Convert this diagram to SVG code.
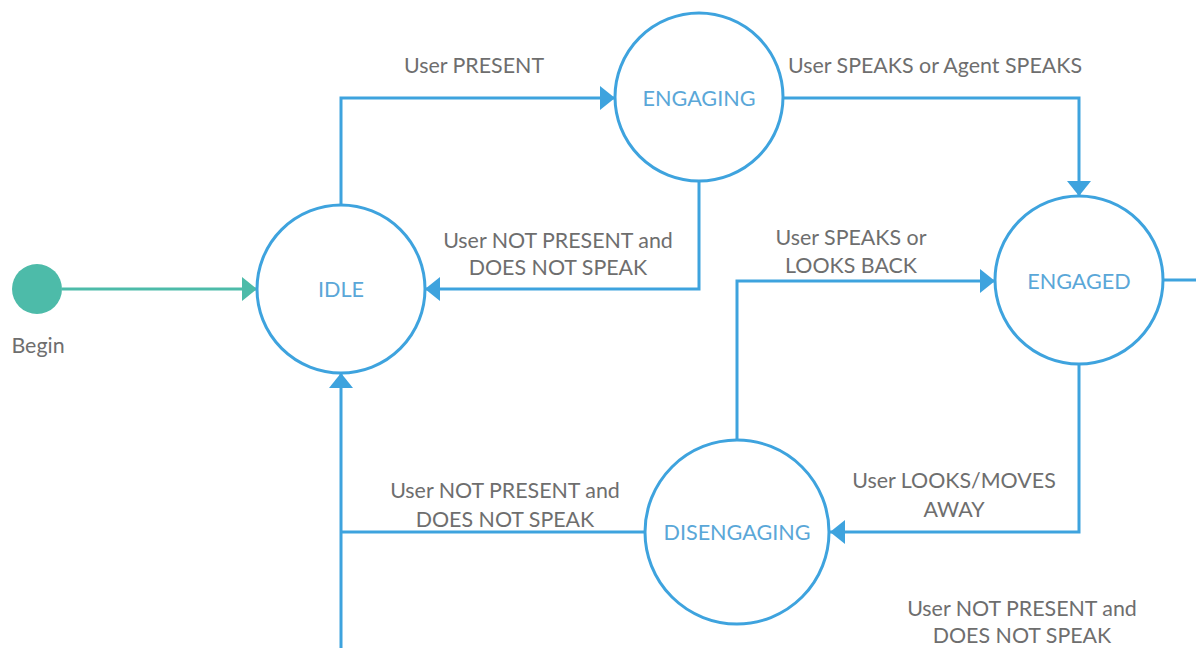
<svg xmlns="http://www.w3.org/2000/svg" width="1196" height="648" viewBox="0 0 1196 648">
  <style>
    .state { fill: #ffffff; stroke: #3ea3de; stroke-width: 3; }
    .state-label { font-family: Lato, "Liberation Sans", sans-serif; font-size: 21.6px; fill: #5aa7d8; text-anchor: middle; }
    .edge { fill: none; stroke: #3ea3de; stroke-width: 3; }
    .edge-start { fill: none; stroke: #4dbba9; stroke-width: 3; }
    .edge-label { font-family: Lato, "Liberation Sans", sans-serif; font-size: 21.4px; fill: #6e6e6e; text-anchor: middle; }
  </style>
  <defs>
    <marker id="arrow" markerUnits="userSpaceOnUse" markerWidth="16" markerHeight="26" viewBox="0 0 16 26" refX="15" refY="13" orient="auto">
      <path d="M0,1 L15,13 L0,25 Z" fill="#3ea3de"/>
    </marker>
    <marker id="arrow-start" markerUnits="userSpaceOnUse" markerWidth="16" markerHeight="26" viewBox="0 0 16 26" refX="15" refY="13" orient="auto">
      <path d="M0,1 L15,13 L0,25 Z" fill="#4dbba9"/>
    </marker>
  </defs>

  <rect width="1196" height="648" fill="#ffffff"/>

  <!-- transitions -->
  <g id="connectors">
    <path class="edge-start" d="M62,289 L257,289" marker-end="url(#arrow-start)"/>
    <path class="edge" d="M341,205 L341,98 L615,98" marker-end="url(#arrow)"/>
    <path class="edge" d="M783,98 L1079,98 L1079,196" marker-end="url(#arrow)"/>
    <path class="edge" d="M699,181 L699,289 L425,289" marker-end="url(#arrow)"/>
    <path class="edge" d="M737,440 L737,281 L995,281" marker-end="url(#arrow)"/>
    <path class="edge" d="M1079,364 L1079,532 L830,532" marker-end="url(#arrow)"/>
    <path class="edge" d="M645,532 L341,532"/>
    <path class="edge" d="M341,648 L341,373" marker-end="url(#arrow)"/>
    <path class="edge" d="M1163,280 L1196,280"/>

    <text class="edge-label" x="474" y="73">User PRESENT</text>
    <text class="edge-label" x="935" y="73">User SPEAKS or Agent SPEAKS</text>
    <text class="edge-label" x="558" y="248">User NOT PRESENT and</text>
    <text class="edge-label" x="558" y="275">DOES NOT SPEAK</text>
    <text class="edge-label" x="851" y="245">User SPEAKS or</text>
    <text class="edge-label" x="851" y="273">LOOKS BACK</text>
    <text class="edge-label" x="954" y="488">User LOOKS/MOVES</text>
    <text class="edge-label" x="954" y="517">AWAY</text>
    <text class="edge-label" x="505" y="498">User NOT PRESENT and</text>
    <text class="edge-label" x="505" y="527">DOES NOT SPEAK</text>
    <text class="edge-label" x="1022" y="616">User NOT PRESENT and</text>
    <text class="edge-label" x="1022" y="643">DOES NOT SPEAK</text>
  </g>

  <g id="begin">
    <circle cx="37" cy="289" r="25" fill="#4dbba9"/>
    <text class="edge-label" x="38" y="353">Begin</text>
  </g>

  <g id="idle">
    <circle class="state" cx="341" cy="289" r="84"/>
    <text class="state-label" x="341" y="297">IDLE</text>
  </g>

  <g id="engaging">
    <circle class="state" cx="699" cy="97" r="84"/>
    <text class="state-label" x="699" y="106">ENGAGING</text>
  </g>

  <g id="engaged">
    <circle class="state" cx="1079" cy="280" r="84"/>
    <text class="state-label" x="1079" y="289">ENGAGED</text>
  </g>

  <g id="disengaging">
    <circle class="state" cx="737" cy="532" r="92"/>
    <text class="state-label" x="737" y="540">DISENGAGING</text>
  </g>
</svg>
